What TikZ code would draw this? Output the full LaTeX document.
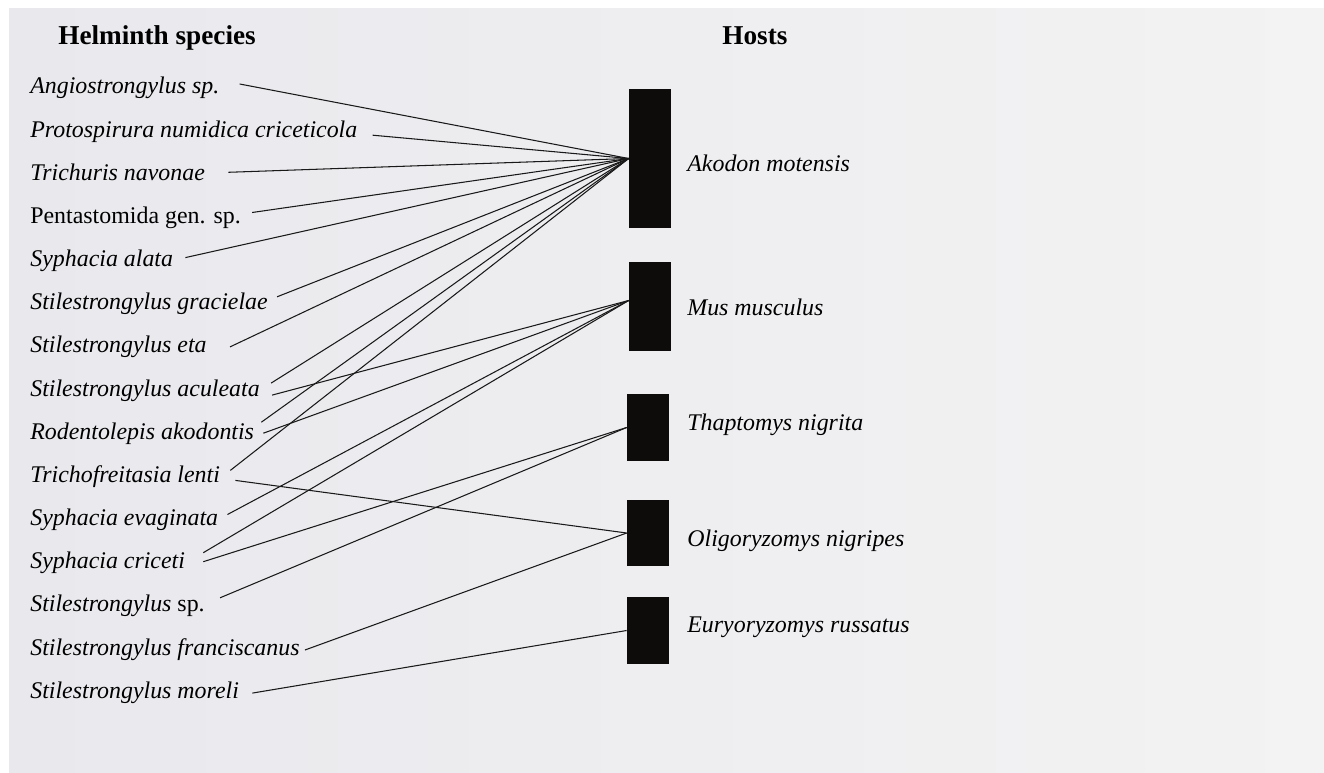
\documentclass[tikz,border=0pt]{standalone}
\usepackage{fontspec}
\setmainfont{Liberation Serif}
\usetikzlibrary{positioning}

\definecolor{panelL}{RGB}{233,232,237}
\definecolor{panelR}{RGB}{243,243,243}
\definecolor{boxfill}{RGB}{14,12,10}

\begin{document}
\begin{tikzpicture}[
      x=0.02cm, y=-0.02cm,
      spname/.style={anchor=base west, inner sep=0pt, font=\fontsize{13.6}{16}\selectfont\itshape},
      plainname/.style={spname, font=\fontsize{13.6}{16}\selectfont},
      hostname/.style={spname},
      header/.style={anchor=base west, inner sep=0pt, font=\fontsize{15.5}{18}\selectfont\bfseries},
      hostbox/.style={fill=boxfill, draw=none, inner sep=0pt, minimum width=0.84cm},
      link/.style={draw=black!90, line width=0.6pt}
    ]

    % ---- canvas ----
    \useasboundingbox (0,0) rectangle (1324,773);
    \fill[white] (0,0) rectangle (1324,773);
    \fill[left color=panelL, right color=panelR] (9,9) rectangle (1324,772);

    % ---- column headers ----
    \node[header] (hdrSp) at (58,45) {Helminth species};
    \node[header] (hdrHo) at (722,45) {Hosts};

    % ================= LEFT COLUMN: helminths =================
    \node[spname] (angio) at (30,94)    {Angiostrongylus sp.};
    \node[spname] (proto) at (30,137.2) {Protospirura numidica criceticola};
    \node[spname] (trich) at (30,180.3) {Trichuris navonae};
    \node[plainname] (penta) at (30,223.5) {Pentastomida gen. sp.};
    \node[spname] (salata) at (30,266.6) {Syphacia alata};
    \node[spname] (sgrac) at (30,309.8) {Stilestrongylus gracielae};
    \node[spname] (seta)  at (30,352.9) {Stilestrongylus eta};
    \node[spname] (sacul) at (30,396.1) {Stilestrongylus aculeata};
    \node[spname] (rakod) at (30,439.2) {Rodentolepis akodontis};
    \node[spname] (tlent) at (30,482.4) {Trichofreitasia lenti};
    \node[spname] (sevag) at (30,525.5) {Syphacia evaginata};
    \node[spname] (scric) at (30,568.7) {Syphacia criceti};
    \node[plainname] (ssp) at (30,611.8) {\textit{Stilestrongylus} sp.};
    \node[spname] (sfran) at (30,655.0) {Stilestrongylus franciscanus};
    \node[spname] (smor)  at (30,698.1) {Stilestrongylus moreli};

    % ================= RIGHT COLUMN: hosts =================
    \node[hostbox, minimum height=2.78cm] (ako)  at (650,158.5) {};
    \node[hostbox, minimum height=1.78cm] (mus)  at (650,306.5) {};
    \node[hostbox, minimum height=1.34cm] (thap) at (648,427.5) {};
    \node[hostbox, minimum height=1.32cm] (oli)  at (648,533)   {};
    \node[hostbox, minimum height=1.34cm] (eury) at (648,630.5) {};

    \node[hostname] (akoL)  at (687,171.7) {Akodon motensis};
    \node[hostname] (musL)  at (687,316)   {Mus musculus};
    \node[hostname] (thapL) at (687,430)   {Thaptomys nigrita};
    \node[hostname] (oliL)  at (687,546)   {Oligoryzomys nigripes};
    \node[hostname] (euryL) at (687,632)   {Euryoryzomys russatus};

    % ---- where the links meet the boxes ----
    \coordinate (akoIn)  at (ako.west);
    \coordinate (musIn)  at ([yshift=0.12cm]mus.west);
    \coordinate (thapIn) at (thap.west);
    \coordinate (oliIn)  at (oli.west);
    \coordinate (euryIn) at (eury.west);

    % ================= links =================
    % Akodon motensis
    \draw[link] ([shift={(20,-10)}]angio.base east) -- (akoIn);
    \draw[link] ([shift={(15,-2)}]proto.base east) -- (akoIn);
    \draw[link] ([shift={(23,-8)}]trich.base east) -- (akoIn);
    \draw[link] ([shift={(11,-11)}]penta.base east) -- (akoIn);
    \draw[link] ([shift={(12,-9)}]salata.base east) -- (akoIn);
    \draw[link] ([shift={(9,-13)}]sgrac.base east) -- (akoIn);
    \draw[link] ([shift={(23,-6)}]seta.base east) -- (akoIn);
    \draw[link] ([shift={(11,-13)}]sacul.base east) -- (akoIn);
    \draw[link] ([shift={(7,-17)}]rakod.base east) -- (akoIn);
    \draw[link] ([shift={(10,-12)}]tlent.base east) -- (akoIn);

    % Mus musculus
    \draw[link] ([shift={(12,-1)}]sacul.base east) -- (musIn);
    \draw[link] ([shift={(9,-6)}]rakod.base east) -- (musIn);
    \draw[link] ([shift={(9,-11)}]sevag.base east) -- (musIn);
    \draw[link] ([shift={(18,-16)}]scric.base east) -- (musIn);

    % Thaptomys nigrita
    \draw[link] ([shift={(18,-7)}]scric.base east) -- (thapIn);
    \draw[link] ([shift={(15,-14)}]ssp.base east) -- (thapIn);

    % Oligoryzomys nigripes
    \draw[link] ([shift={(15,-2)}]tlent.base east) -- (oliIn);
    \draw[link] ([shift={(5,-5)}]sfran.base east) -- (oliIn);

    % Euryoryzomys russatus
    \draw[link] ([shift={(13,-5)}]smor.base east) -- (euryIn);

    \end{tikzpicture}
\end{document}
